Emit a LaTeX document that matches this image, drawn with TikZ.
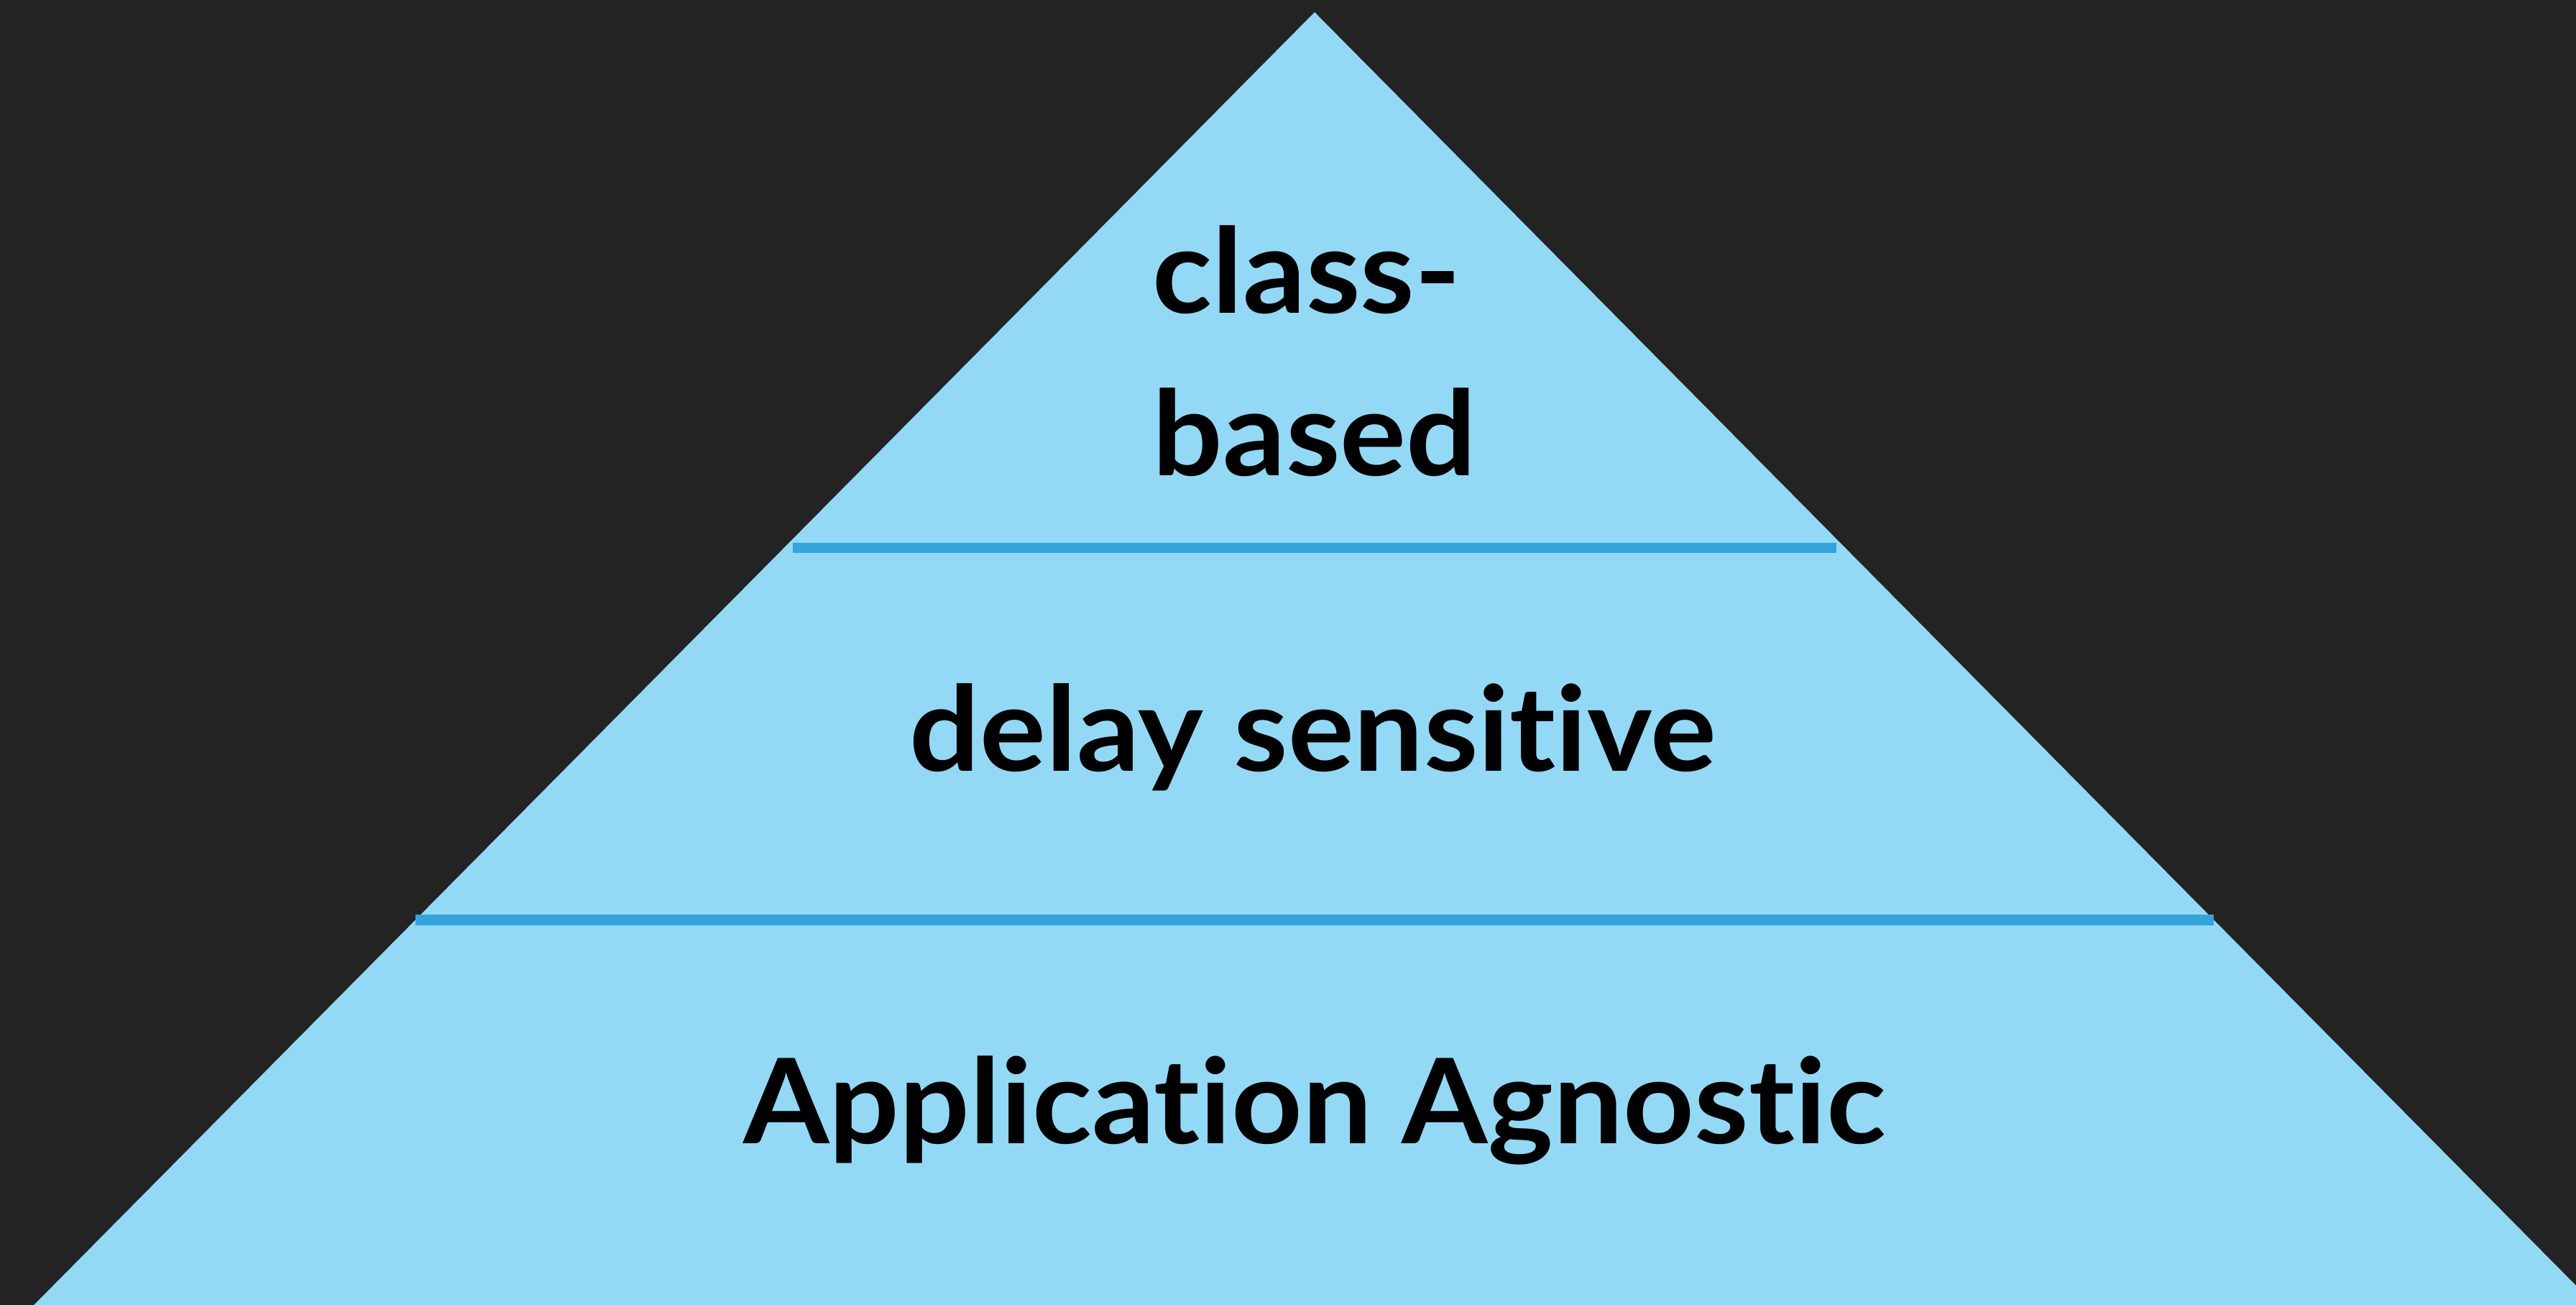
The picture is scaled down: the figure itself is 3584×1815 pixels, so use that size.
\documentclass[tikz,border=0pt]{standalone}
\usepackage{fontspec}
\setmainfont{Lato}[UprightFont=* Bold, Ligatures=NoCommon, FakeStretch=1.05]
\definecolor{bgdark}{HTML}{232323}
\definecolor{pyrblue}{HTML}{93D9F5}
\definecolor{linblue}{HTML}{34A4DA}
\begin{document}
\begin{tikzpicture}[x=0.25pt,y=-0.25pt,
  lbl/.style={inner sep=0pt,outer sep=0pt,text=black,font=\fontsize{41}{56.5}\selectfont},
  divider/.style={draw=linblue,line width=3.5pt}]
\useasboundingbox (0,0) rectangle (3584,1815);
\fill[bgdark] (0,0) rectangle (3584,1815);
\begin{scope}
\clip (0,0) rectangle (3584,1815);
\coordinate (apex) at (1829,17);
\coordinate (bl) at (-37,1900);
\coordinate (br) at (3695,1900);
\fill[pyrblue] (apex) -- (bl) -- (br) -- cycle;
\end{scope}
\coordinate (d1l) at (1103,762);
\coordinate (d1r) at (2555,762);
\coordinate (d2l) at (578,1279.5);
\coordinate (d2r) at (3080,1279.5);
\draw[divider] (d1l) -- (d1r);
\draw[divider] (d2l) -- (d2r);
\node[lbl,anchor=base] (based) at (1829,662) {based};
\node[lbl,anchor=base west] (class) at ([yshift=56.5pt]based.base west) {class-};
\node[lbl,anchor=base] (delay) at (1827,1073) {delay sensitive};
\node[lbl,anchor=base] (agn) at (1829,1590) {Application Agnostic};
\end{tikzpicture}
\end{document}
